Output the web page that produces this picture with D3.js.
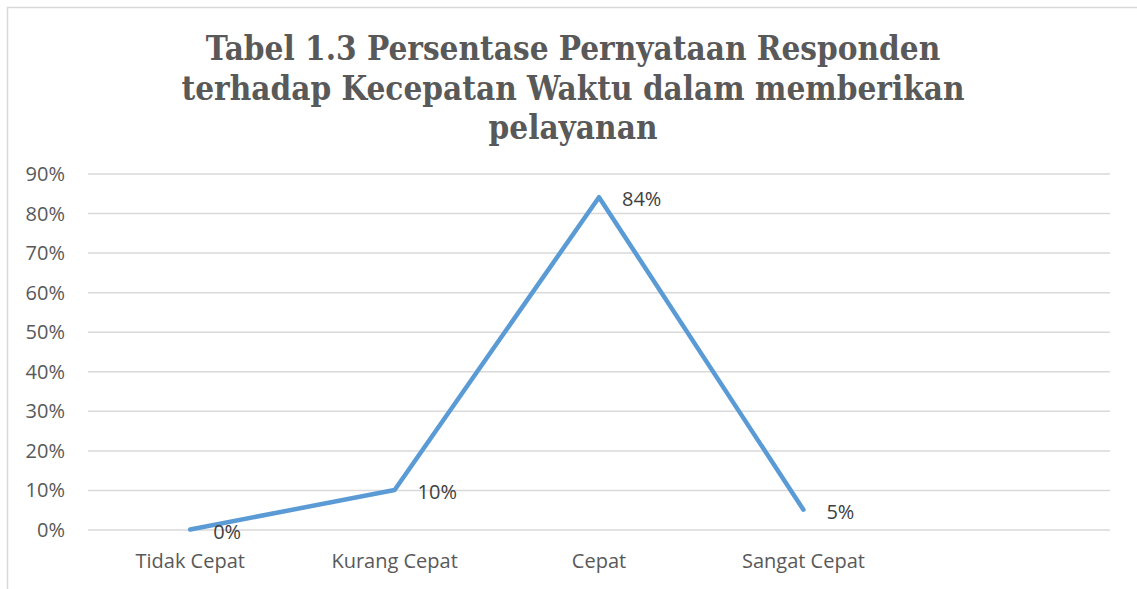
<!DOCTYPE html>
<html><head><meta charset="utf-8">
<script src="https://cdn.jsdelivr.net/npm/d3@7"></script>
<style>body{margin:0;background:#fff;} svg{display:block;}</style>
</head><body>
<svg id="c" width="1137" height="589"></svg>
<script>
const categories = ["Tidak Cepat","Kurang Cepat","Cepat","Sangat Cepat",""];
const values = [0, 0.10, 0.84, 0.05];
const valueLabels = ["0%","10%","84%","5%"];
const yTicks = [0,0.1,0.2,0.3,0.4,0.5,0.6,0.7,0.8,0.9];
const titleLines = ["Tabel 1.3 Persentase Pernyataan Responden","terhadap Kecepatan Waktu dalam memberikan","pelayanan"];

const svg = d3.select("#c");
const W = 1137, H = 589;
svg.append("rect").attr("x",0).attr("y",0).attr("width",W).attr("height",H).attr("fill","#fff");
// chart border
svg.append("rect").attr("x",7.5).attr("y",7.5).attr("width",W+20).attr("height",H+20)
  .attr("fill","none").attr("stroke","#d9d9d9").attr("stroke-width",1.5);

const m = {left:88, right:1110, top:173.5, bottom:529.5};
const x = d3.scaleBand().domain(categories.map((c,i)=>i)).range([m.left,m.right]);
const y = d3.scaleLinear().domain([0,0.9]).range([m.bottom,m.top]);

// title
const tg = svg.append("g");
titleLines.forEach((t,i)=>{
  tg.append("text").attr("x",573).attr("y",60+i*39.5).attr("text-anchor","middle")
    .attr("font-family","'DejaVu Serif Condensed', 'DejaVu Serif'").attr("font-weight","bold").attr("font-size",27)
    .attr("fill","#595959").text(t);
});
const first = tg.select("text").node();
const wlen = first.getComputedTextLength();
const fs = Math.min(34, 27*735/wlen);
tg.selectAll("text").attr("font-size",fs);

const FONT = "Open Sans", FS = 20;
// grid
const yAxis = d3.axisLeft(y).tickValues(yTicks).tickSize(-(m.right-m.left)).tickFormat(d3.format(".0%")).tickPadding(23);
const ga = svg.append("g").attr("transform",`translate(${m.left},0)`).call(yAxis);
ga.select(".domain").remove();
ga.selectAll(".tick line").attr("stroke","#d9d9d9").attr("stroke-width",1.5);
ga.selectAll(".tick text").attr("font-family",FONT).attr("font-size",FS).attr("fill","#595959").attr("dy","0.35em");

// x axis labels
const xAxis = d3.axisBottom(x).tickSize(0).tickPadding(24).tickFormat(i=>categories[i]);
const gx = svg.append("g").attr("transform",`translate(0,${m.bottom})`).call(xAxis);
gx.select(".domain").remove();
gx.selectAll(".tick text").attr("font-family",FONT).attr("font-size",FS).attr("fill","#595959");

// line
const line = d3.line().x((d,i)=>x(i)+x.bandwidth()/2).y(d=>y(d));
svg.append("path").datum(values).attr("d",line).attr("fill","none")
  .attr("stroke","#5B9BD5").attr("stroke-width",4.5).attr("stroke-linecap","round").attr("stroke-linejoin","round");

// data labels
svg.append("g").selectAll("text").data(values).join("text")
  .attr("x",(d,i)=>x(i)+x.bandwidth()/2+23)
  .attr("y",d=>y(d)+2)
  .attr("dy","0.35em")
  .attr("font-family",FONT).attr("font-size",FS).attr("fill","#404040")
  .text((d,i)=>valueLabels[i]);
</script>
</body></html>
